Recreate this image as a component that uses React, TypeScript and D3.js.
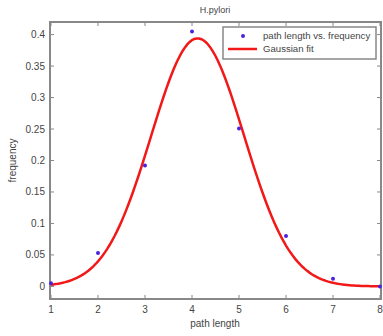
import React, { useEffect, useRef } from 'react';
import * as d3 from 'd3';

// data
const pathLength = [1, 2, 3, 4, 5, 6, 7, 8];
const frequency = [0.005, 0.053, 0.192, 0.405, 0.251, 0.08, 0.012, 0.0];

// Gaussian fit parameters: a * exp(-((x - b) / c)^2)
const fitA = 0.394;
const fitB = 4.12;
const fitC = 1.4;

const xTicks = [1, 2, 3, 4, 5, 6, 7, 8];
const yTicks = [0, 0.05, 0.1, 0.15, 0.2, 0.25, 0.3, 0.35, 0.4];

const App = () => {
  const svgRef = useRef<SVGSVGElement>(null);

  useEffect(() => {
    const svg = d3.select(svgRef.current);
    svg.selectAll('*').remove();

    const W = 383, H = 336;
    const margin = { top: 22, right: 2, bottom: 37, left: 50 };
    const width = W - margin.left - margin.right;
    const height = H - margin.top - margin.bottom;
    const font = 'Liberation Sans, Arial, sans-serif';
    const axisColor = '#888';
    const textColor = '#444';

    svg.attr('width', W).attr('height', H);
    svg.append('rect').attr('width', W).attr('height', H).attr('fill', '#fff');

    const g = svg.append('g').attr('transform', `translate(${margin.left},${margin.top})`);

    const x = d3.scaleLinear().domain([1, 8]).range([1, width - 1]);
    const y = d3.scaleLinear().domain([-0.02, 0.42]).range([height, 0]);

    g.append('rect')
      .attr('width', width).attr('height', height)
      .attr('fill', 'none').attr('stroke', axisColor).attr('stroke-width', 2);

    const tickLen = 4;
    // x ticks bottom + top
    xTicks.forEach(t => {
      g.append('line').attr('x1', x(t)).attr('x2', x(t)).attr('y1', height).attr('y2', height - tickLen).attr('stroke', axisColor);
      g.append('line').attr('x1', x(t)).attr('x2', x(t)).attr('y1', 0).attr('y2', tickLen).attr('stroke', axisColor);
      g.append('text')
        .attr('x', x(t)).attr('y', height + 14)
        .attr('text-anchor', 'middle')
        .attr('font-family', font).attr('font-size', 10).attr('fill', textColor)
        .text(t);
    });
    // y ticks left + right
    yTicks.forEach(t => {
      g.append('line').attr('x1', 0).attr('x2', tickLen).attr('y1', y(t)).attr('y2', y(t)).attr('stroke', axisColor);
      g.append('line').attr('x1', width).attr('x2', width - tickLen).attr('y1', y(t)).attr('y2', y(t)).attr('stroke', axisColor);
      g.append('text')
        .attr('x', -5).attr('y', y(t)).attr('dy', '0.35em')
        .attr('text-anchor', 'end')
        .attr('font-family', font).attr('font-size', 10).attr('fill', textColor)
        .text(String(t));
    });

    // fit curve
    const fitX = d3.range(1, 8.001, 0.05);
    const line = d3.line<number>()
      .x(d => x(d))
      .y(d => y(fitA * Math.exp(-Math.pow((d - fitB) / fitC, 2))));
    g.append('path')
      .datum(fitX)
      .attr('d', line)
      .attr('fill', 'none').attr('stroke', '#f21818').attr('stroke-width', 2.5);

    // data points
    g.selectAll('.pt')
      .data(pathLength)
      .enter().append('circle')
      .attr('class', 'pt')
      .attr('cx', d => x(d))
      .attr('cy', (d, i) => y(frequency[i]))
      .attr('r', 2)
      .attr('fill', '#4a22e0');

    // labels
    svg.append('text')
      .attr('x', 215).attr('y', 13).attr('text-anchor', 'middle')
      .attr('font-family', font).attr('font-size', 9).attr('fill', textColor)
      .text('H.pylori');
    svg.append('text')
      .attr('x', 215).attr('y', 327).attr('text-anchor', 'middle')
      .attr('font-family', font).attr('font-size', 10).attr('fill', textColor)
      .text('path length');
    svg.append('text')
      .attr('transform', `translate(16,${margin.top + height / 2}) rotate(-90)`)
      .attr('text-anchor', 'middle')
      .attr('font-family', font).attr('font-size', 10).attr('fill', textColor)
      .text('frequency');

    // legend
    const lg = svg.append('g').attr('transform', 'translate(223,27)');
    lg.append('rect').attr('width', 153).attr('height', 32)
      .attr('fill', '#fff').attr('stroke', axisColor).attr('stroke-width', 1.5);
    lg.append('circle').attr('cx', 20).attr('cy', 9).attr('r', 2).attr('fill', '#4a22e0');
    lg.append('line').attr('x1', 5).attr('x2', 34).attr('y1', 22).attr('y2', 22)
      .attr('stroke', '#f21818').attr('stroke-width', 2.5);
    lg.append('text').attr('x', 40).attr('y', 9).attr('dy', '0.35em')
      .attr('font-family', font).attr('font-size', 9.6).attr('fill', textColor)
      .text('path length vs. frequency');
    lg.append('text').attr('x', 40).attr('y', 22).attr('dy', '0.35em')
      .attr('font-family', font).attr('font-size', 9.6).attr('fill', textColor)
      .text('Gaussian fit');
  }, []);

  return <svg ref={svgRef} style={{ position: 'absolute', left: 0, top: 0 }}></svg>;
};

export default App;
